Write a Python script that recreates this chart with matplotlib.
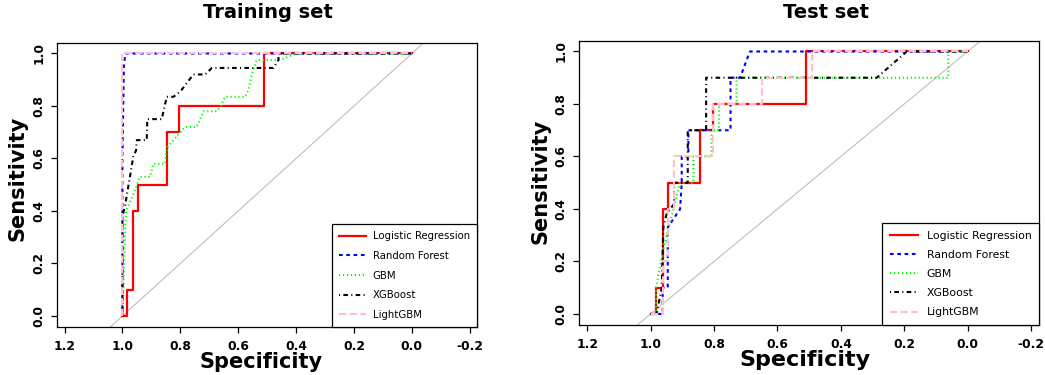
import matplotlib.pyplot as plt
import matplotlib as mpl

mpl.rc('font', family='DejaVu Sans')

# ---------------- data (specificity, sensitivity)
models = ['Logistic Regression', 'Random Forest', 'GBM', 'XGBoost', 'LightGBM']

# training set
trLR_spec = [1.0, 0.983, 0.983, 0.962, 0.962, 0.946, 0.946, 0.847, 0.847, 0.804, 0.804, 0.51, 0.51, 0.0]
trLR_sens = [0.0, 0.0, 0.1, 0.1, 0.4, 0.4, 0.5, 0.5, 0.7, 0.7, 0.8, 0.8, 1.0, 1.0]
trRF_spec = [1.0, 1.0, 0.995, 0.99, 0.0]
trRF_sens = [0.0, 0.6, 0.95, 1.0, 1.0]
trGBM_spec = [1.0, 0.997, 0.99, 0.987, 0.96, 0.95, 0.94, 0.905, 0.893, 0.853, 0.847, 0.824, 0.80, 0.783,
              0.743, 0.72, 0.674, 0.66, 0.645, 0.576, 0.565, 0.553, 0.536, 0.478, 0.444, 0.40, 0.0]
trGBM_sens = [0.0, 0.10, 0.35, 0.40, 0.47, 0.50, 0.53, 0.53, 0.58, 0.58, 0.64, 0.67, 0.70, 0.72,
              0.72, 0.78, 0.78, 0.80, 0.835, 0.835, 0.86, 0.92, 0.975, 0.975, 0.98, 1.0, 1.0]
trXGB_spec = [1.0, 1.0, 0.991, 0.974, 0.962, 0.953, 0.950, 0.916, 0.914, 0.864, 0.847, 0.824, 0.80,
              0.755, 0.714, 0.691, 0.478, 0.461, 0.461, 0.0]
trXGB_sens = [0.0, 0.38, 0.42, 0.53, 0.61, 0.63, 0.67, 0.67, 0.75, 0.75, 0.835, 0.835, 0.855,
              0.92, 0.92, 0.945, 0.945, 0.975, 1.0, 1.0]
trLGB_spec = [1.0, 1.0, 0.0]
trLGB_sens = [0.0, 1.0, 1.0]

# test set
teLR_spec = [1.0, 0.983, 0.983, 0.962, 0.962, 0.946, 0.946, 0.844, 0.844, 0.804, 0.804, 0.511, 0.511, 0.0]
teLR_sens = [0.0, 0.0, 0.1, 0.1, 0.4, 0.4, 0.5, 0.5, 0.7, 0.7, 0.8, 0.8, 1.0, 1.0]
teRF_spec = [1.0, 0.962, 0.962, 0.946, 0.946, 0.907, 0.902, 0.902, 0.881, 0.881, 0.748, 0.748, 0.718, 0.687, 0.0]
teRF_sens = [0.0, 0.0, 0.1, 0.1, 0.33, 0.4, 0.5, 0.6, 0.6, 0.7, 0.7, 0.9, 0.9, 1.0, 1.0]
teGBM_spec = [1.0, 0.983, 0.983, 0.96, 0.928, 0.907, 0.865, 0.865, 0.808, 0.808, 0.784, 0.784,
              0.729, 0.729, 0.061, 0.061, 0.0]
teGBM_sens = [0.0, 0.0, 0.1, 0.25, 0.4, 0.5, 0.5, 0.6, 0.6, 0.7, 0.7, 0.8, 0.8, 0.9, 0.9, 1.0, 1.0]
teXGB_spec = [1.0, 0.981, 0.965, 0.96, 0.95, 0.926, 0.926, 0.883, 0.883, 0.825, 0.825, 0.287, 0.192, 0.0]
teXGB_sens = [0.0, 0.0, 0.1, 0.33, 0.38, 0.42, 0.5, 0.5, 0.7, 0.7, 0.9, 0.9, 1.0, 1.0]
teLGB_spec = [1.0, 0.96, 0.96, 0.944, 0.944, 0.926, 0.926, 0.804, 0.804, 0.648, 0.648, 0.49, 0.49, 0.0]
teLGB_sens = [0.0, 0.0, 0.2, 0.2, 0.4, 0.4, 0.6, 0.6, 0.8, 0.8, 0.9, 0.9, 1.0, 1.0]

xticks = [1.2, 1.0, 0.8, 0.6, 0.4, 0.2, 0.0, -0.2]
xticklabels = ['1.2', '1.0', '0.8', '0.6', '0.4', '0.2', '0.0', '-0.2']
yticks = [0.0, 0.2, 0.4, 0.6, 0.8, 1.0]
yticklabels = ['0.0', '0.2', '0.4', '0.6', '0.8', '1.0']

# ---------------- styles
colors = ['red', 'blue', '#00ff00', 'black', 'pink']
dashes = [None, (1.75, 1.75), (0.6, 1.3), (0.5, 1.6, 2.2, 1.6), (3.5, 1.6)]
widths = [1.6, 1.5, 1.5, 1.5, 1.5]

train = [(trLR_spec, trLR_sens), (trRF_spec, trRF_sens), (trGBM_spec, trGBM_sens),
         (trXGB_spec, trXGB_sens), (trLGB_spec, trLGB_sens)]
test = [(teLR_spec, teLR_sens), (teRF_spec, teRF_sens), (teGBM_spec, teGBM_sens),
        (teXGB_spec, teXGB_sens), (teLGB_spec, teLGB_sens)]

fig = plt.figure(figsize=(10.45, 3.75), dpi=100)
ax1 = fig.add_axes([57/1045, 48/375, 420/1045, 284/375])
ax2 = fig.add_axes([579/1045, 50/375, 460/1045, 284/375])


def draw(ax, curves, legsize, hlen, hpad, lspace):
    ax.axline((1.0, 0.0), (0.0, 1.0), color='#bebebe', lw=0.8, zorder=1)
    for i, (sp, se) in enumerate(curves):
        line, = ax.plot(sp, se, color=colors[i], lw=widths[i], label=models[i], zorder=2 + i)
        if dashes[i] is not None:
            line.set_dashes(dashes[i])
    ax.set_xlim(1.226, -0.225)
    ax.set_ylim(-0.042, 1.04)
    ax.set_xticks(xticks)
    ax.set_xticklabels(xticklabels, fontsize=8.8, fontweight='bold')
    ax.set_yticks(yticks)
    ax.set_yticklabels(yticklabels, fontsize=8.8, fontweight='bold', rotation=90, va='center')
    ax.tick_params(direction='out', length=4.5, width=0.9, pad=4)
    ax.tick_params(axis='x', pad=4.5)
    for s in ax.spines.values():
        s.set_linewidth(0.9)
    leg = ax.legend(loc='lower right', borderaxespad=0, fancybox=False, framealpha=1,
                    edgecolor='black', handlelength=hlen, handletextpad=hpad,
                    labelspacing=lspace, borderpad=0.7,
                    prop={'family': 'DejaVu Sans', 'size': legsize})
    leg.get_frame().set_linewidth(0.9)


draw(ax1, train, 7.3, 2.67, 0.7, 0.95)
draw(ax2, test, 7.8, 2.6, 0.8, 0.85)

fig.text(268/1045, 1 - 18/375, 'Training set', ha='center', va='baseline', fontsize=14, fontweight='bold')
fig.text(826/1045, 1 - 18/375, 'Test set', ha='center', va='baseline', fontsize=14, fontweight='bold')
fig.text(18/1045, 1 - 178/375, 'Sensitivity', ha='center', va='center', rotation=90, fontsize=15, fontweight='bold')
fig.text(541/1045, 1 - 181/375, 'Sensitivity', ha='center', va='center', rotation=90, fontsize=15, fontweight='bold')
fig.text(261/1045, 1 - 368/375, 'Specificity', ha='center', va='baseline', fontsize=15, fontweight='bold')
fig.text(805/1045, 1 - 366/375, 'Specificity', ha='center', va='baseline', fontsize=16, fontweight='bold')

fig.savefig('out.png', dpi=100)
plt.close(fig)
